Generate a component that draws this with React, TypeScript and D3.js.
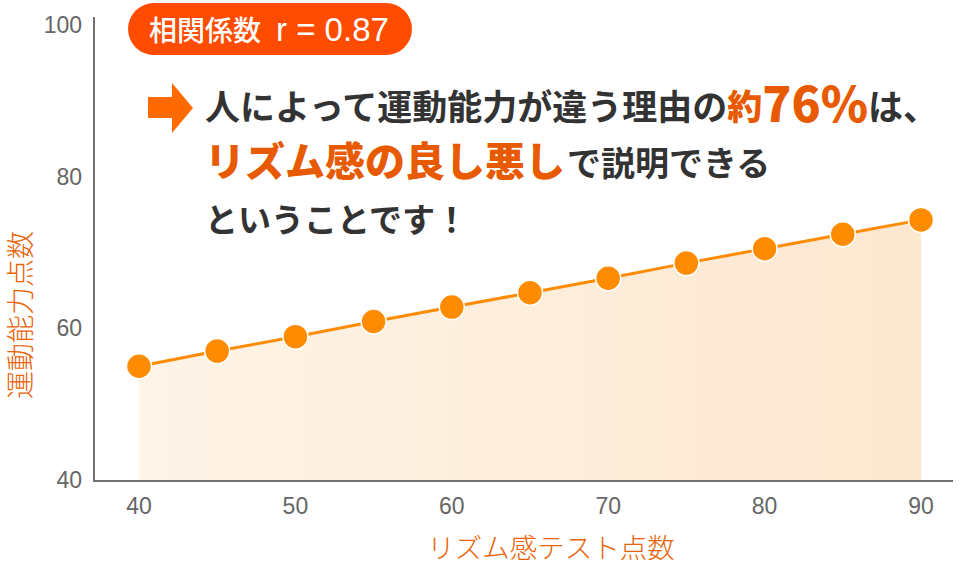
import { useRef, useEffect } from 'react';
import * as d3 from 'd3';

// リズム感テスト点数 (x) と 運動能力点数 (y)
const rhythmScores = [40, 45, 50, 55, 60, 65, 70, 75, 80, 85, 90];
const athleticScores = [55.0, 57.0, 58.9, 60.9, 62.8, 64.7, 66.6, 68.6, 70.5, 72.4, 74.3];
const xTicks = [40, 50, 60, 70, 80, 90];
const yTicks = [40, 60, 80, 100];

const badgeLabel = '相関係数';
const badgeValue = 'r = 0.87';
const xTitle = 'リズム感テスト点数';
const yTitle = '運動能力点数';

const W = 960;
const H = 565;
const JP = '"Noto Sans CJK JP", "Noto Sans", sans-serif';
const NUM = '"Liberation Sans", Arial, sans-serif';

const App = () => {
  const svgRef = useRef<SVGSVGElement>(null);

  useEffect(() => {
    const svg = d3.select(svgRef.current);
    svg.selectAll('*').remove();

    const x = d3.scaleLinear().domain([40, 90]).range([139, 921]);
    const y = d3.scaleLinear().domain([40, 100]).range([480, 25]);

    const pts = rhythmScores.map((v, i) => ({ x: v, y: athleticScores[i] }));

    // Gradient for area
    const defs = svg.append('defs');
    const grad = defs.append('linearGradient')
      .attr('id', 'area-grad')
      .attr('x1', '0%').attr('y1', '0%')
      .attr('x2', '100%').attr('y2', '0%');
    grad.append('stop').attr('offset', '0%').attr('stop-color', '#fef4e7');
    grad.append('stop').attr('offset', '100%').attr('stop-color', '#fde7cf');

    const area = d3.area<{ x: number; y: number }>()
      .x((d) => x(d.x))
      .y0(y(40))
      .y1((d) => y(d.y));
    svg.append('path')
      .attr('d', area(pts) || '')
      .attr('fill', 'url(#area-grad)');

    // Axes lines
    svg.append('line')
      .attr('x1', 94).attr('x2', 94)
      .attr('y1', 17).attr('y2', 482)
      .attr('stroke', '#707070').attr('stroke-width', 2);
    svg.append('line')
      .attr('x1', 93).attr('x2', 953)
      .attr('y1', 481).attr('y2', 481)
      .attr('stroke', '#707070').attr('stroke-width', 2);

    // Tick labels
    svg.append('g').selectAll('text')
      .data(yTicks)
      .join('text')
      .attr('x', 82)
      .attr('y', (d) => y(d) + 8)
      .attr('text-anchor', 'end')
      .attr('font-family', NUM)
      .attr('font-size', 23)
      .attr('fill', '#666')
      .text((d) => d);

    svg.append('g').selectAll('text')
      .data(xTicks)
      .join('text')
      .attr('x', (d) => x(d))
      .attr('y', 514)
      .attr('text-anchor', 'middle')
      .attr('font-family', NUM)
      .attr('font-size', 23)
      .attr('fill', '#666')
      .text((d) => d);

    // Axis titles
    svg.append('text')
      .attr('x', 551).attr('y', 558)
      .attr('text-anchor', 'middle')
      .attr('font-family', JP)
      .attr('font-size', 27.5)
      .attr('font-weight', 300)
      .attr('fill', '#e8630a')
      .text(xTitle);

    svg.append('text')
      .attr('transform', 'translate(31,315) rotate(-90)')
      .attr('text-anchor', 'middle')
      .attr('font-family', JP)
      .attr('font-size', 28)
      .attr('font-weight', 300)
      .attr('fill', '#e8630a')
      .text(yTitle);

    // Line
    const line = d3.line<{ x: number; y: number }>()
      .x((d) => x(d.x))
      .y((d) => y(d.y));
    svg.append('path')
      .attr('d', line(pts) || '')
      .attr('fill', 'none')
      .attr('stroke', '#ff8c00')
      .attr('stroke-width', 3);

    // Points
    svg.append('g').selectAll('circle')
      .data(pts)
      .join('circle')
      .attr('cx', (d) => x(d.x))
      .attr('cy', (d) => y(d.y))
      .attr('r', 12.5)
      .attr('fill', '#ff8c00')
      .attr('stroke', '#fff')
      .attr('stroke-width', 1.5);

    // Badge
    svg.append('rect')
      .attr('x', 128).attr('y', 3)
      .attr('width', 284).attr('height', 52)
      .attr('rx', 26)
      .attr('fill', '#ff4c00');
    const badge = svg.append('text')
      .attr('x', 149).attr('y', 41)
      .attr('fill', '#fff');
    badge.append('tspan')
      .attr('font-family', JP)
      .attr('font-size', 28)
      .attr('font-weight', 500)
      .text(badgeLabel);
    badge.append('tspan')
      .attr('dx', 15)
      .attr('font-family', NUM)
      .attr('font-size', 33)
      .text(badgeValue);

    // Arrow
    svg.append('path')
      .attr('d', 'M148,97 L172,97 L172,83 L193,108 L172,133 L172,118 L148,118 Z')
      .attr('fill', '#ff6a00');

    // Message
    const msg = svg.append('g')
      .attr('font-family', JP)
      .attr('font-weight', 700);

    const l1 = msg.append('text').attr('x', 205).attr('y', 120).attr('fill', '#333').attr('font-size', 35);
    l1.append('tspan').text('人によって運動能力が違う理由の');
    l1.append('tspan').attr('fill', '#e85a00').attr('font-weight', 900).text('約');
    l1.append('tspan').attr('fill', '#e85a00').attr('font-weight', 900).attr('font-size', 48).attr('dy', 2).text('76%');
    l1.append('tspan').attr('dy', -2).text('は、');

    const l2 = msg.append('text').attr('x', 205).attr('y', 176).attr('fill', '#333').attr('font-size', 34);
    l2.append('tspan').attr('fill', '#e85a00').attr('font-weight', 900).attr('font-size', 40).text('リズム感の良し悪し');
    l2.append('tspan').attr('dx', 2).text('で説明できる');

    msg.append('text')
      .attr('x', 205).attr('y', 232)
      .attr('fill', '#333')
      .attr('font-size', 33)
      .text('ということです！');
  }, []);

  return (
    <svg
      ref={svgRef}
      width={W}
      height={H}
      style={{ position: 'absolute', left: 0, top: 0, background: '#fff' }}
    />
  );
};

export default App;
